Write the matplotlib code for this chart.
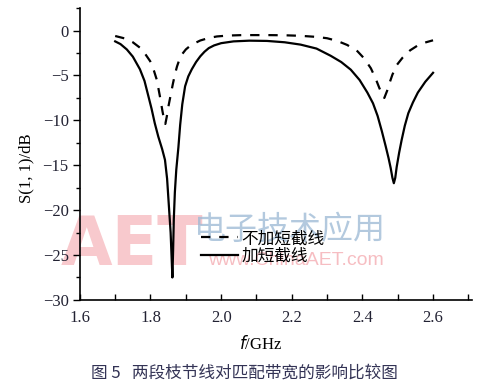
import matplotlib
matplotlib.use("Agg")
import matplotlib.pyplot as plt
from matplotlib.ticker import MultipleLocator

# S11 without the short stub (dashed)
freq_no_stub = [1.700, 1.730, 1.750, 1.770, 1.785, 1.799, 1.810, 1.818, 1.827,
                1.834, 1.839, 1.842, 1.846, 1.851, 1.857, 1.863, 1.869, 1.875,
                1.882, 1.890, 1.900, 1.915, 1.941, 1.965, 1.988, 2.020, 2.060,
                2.130, 2.180, 2.225, 2.270, 2.300, 2.329, 2.357, 2.386, 2.405,
                2.424, 2.437, 2.448, 2.456, 2.462, 2.470, 2.478, 2.485, 2.498,
                2.514, 2.535, 2.556, 2.580, 2.600]
s11_no_stub = [-0.6, -0.9, -1.3, -1.9, -2.6, -3.4, -4.5, -5.5, -7.4,
               -9.0, -10.0, -10.4, -9.6, -8.4, -7.2, -6.0, -4.9, -4.0,
               -3.2, -2.6, -2.1, -1.6, -1.1, -0.82, -0.65, -0.55, -0.5,
               -0.5, -0.52, -0.58, -0.7, -0.85, -1.15, -1.6, -2.3, -3.1,
               -4.2, -5.3, -6.4, -7.1, -7.5, -6.7, -5.7, -4.9, -3.8,
               -3.0, -2.2, -1.67, -1.3, -1.08]

# S11 with the short stub (solid)
freq_stub = [1.700, 1.715, 1.733, 1.750, 1.770, 1.783, 1.794, 1.803, 1.812,
             1.822, 1.833, 1.841, 1.847, 1.852, 1.857, 1.860, 1.862, 1.864,
             1.866, 1.869, 1.873, 1.879, 1.884, 1.890, 1.898, 1.907, 1.917,
             1.929, 1.941, 1.953, 1.965, 1.980, 2.000, 2.035, 2.080, 2.130,
             2.180, 2.225, 2.270, 2.310, 2.340, 2.367, 2.392, 2.414, 2.430,
             2.443, 2.455, 2.466, 2.474, 2.480, 2.485, 2.489, 2.493, 2.497,
             2.504, 2.511, 2.520, 2.530, 2.543, 2.557, 2.578, 2.600]
s11_stub = [-1.2, -1.5, -2.1, -2.9, -4.3, -5.6, -7.3, -8.7, -10.3,
            -11.8, -13.2, -14.4, -16.5, -19.5, -22.5, -25.5, -27.5, -24.5,
            -21.0, -18.0, -15.5, -13.0, -10.5, -8.2, -6.2, -5.1, -4.3,
            -3.5, -2.86, -2.35, -1.95, -1.65, -1.4, -1.2, -1.12, -1.15,
            -1.3, -1.56, -2.0, -2.8, -3.5, -4.35, -5.5, -6.9, -8.1,
            -9.5, -11.2, -12.9, -14.2, -15.3, -16.4, -17.0, -16.4, -15.2,
            -13.6, -12.2, -10.6, -9.2, -8.0, -6.9, -5.7, -4.7]

labels = ["不加短截线", "加短截线"]
caption = "图 5   两段枝节线对匹配带宽的影响比较图"

serif = ["Liberation Serif", "DejaVu Serif"]
cjk = ["Noto Sans CJK SC", "DejaVu Sans"]

fig = plt.figure(figsize=(4.84, 3.89), dpi=100)
ax = fig.add_axes([0.165, 0.229, 0.81, 0.75])

# faint watermark of the source site
ax.text(-0.05, 0.12, "AET", transform=ax.transAxes, fontsize=48,
        family="DejaVu Sans", weight="bold", color="#f08890", alpha=0.45,
        zorder=0)
ax.text(0.29, 0.21, "电子技术应用", transform=ax.transAxes, fontsize=23,
        family=cjk, color="#9ab8d4", alpha=0.75, zorder=0)
ax.text(0.775, 0.12, "www.ChinaAET.com", transform=ax.transAxes, fontsize=14,
        family="Liberation Sans", color="#f08890", alpha=0.55, ha="right",
        zorder=0)

ax.plot(freq_no_stub, s11_no_stub, color="black", lw=1.6,
        ls=(0, (4.2, 4.0)), label=labels[0], zorder=3)
ax.plot(freq_stub, s11_stub, color="black", lw=1.6, label=labels[1], zorder=3)

ax.set_xlim(1.6, 2.71)
ax.set_ylim(-30, 2.5)
ax.xaxis.set_major_locator(MultipleLocator(0.2))
ax.xaxis.set_minor_locator(MultipleLocator(0.1))
ax.yaxis.set_major_locator(MultipleLocator(5))
ax.yaxis.set_minor_locator(MultipleLocator(2.5))
ax.xaxis.set_major_formatter(plt.FuncFormatter(lambda v, p: f"{v:.1f}"))
ax.yaxis.set_major_formatter(
    plt.FuncFormatter(lambda v, p: f"\u2212{-v:.0f}" if v < 0 else f"{v:.0f}"))

ax.tick_params(axis="x", which="both", direction="in", length=4, width=1,
               pad=7)
ax.tick_params(axis="y", which="major", direction="out", length=5, width=1,
               pad=3)
ax.tick_params(axis="y", which="minor", direction="out", length=3, width=1)
for lab in ax.get_xticklabels() + ax.get_yticklabels():
    lab.set_family(serif)
    lab.set_fontsize(12)
    lab.set_color("#222233")

for side in ("top", "right"):
    ax.spines[side].set_visible(False)
for side in ("left", "bottom"):
    ax.spines[side].set_linewidth(1.2)

ax.set_ylabel("S(1, 1)/dB", family=serif, fontsize=12, labelpad=6)
ax.yaxis.label.set_y(0.45)
ax.set_xlabel("$\\mathit{f}$/GHz", family=serif, fontsize=12, labelpad=7)
ax.xaxis.label.set_x(0.462)

ax.legend(loc="upper left", bbox_to_anchor=(0.272, 0.29), frameon=False,
          prop={"family": cjk, "size": 12}, handlelength=2.2,
          handletextpad=0.2, labelspacing=0.05)

fig.text(0.506, 0.041, caption, family=cjk, fontsize=12, color="#333355",
         ha="center", va="center")

fig.savefig("out.png", dpi=100)
